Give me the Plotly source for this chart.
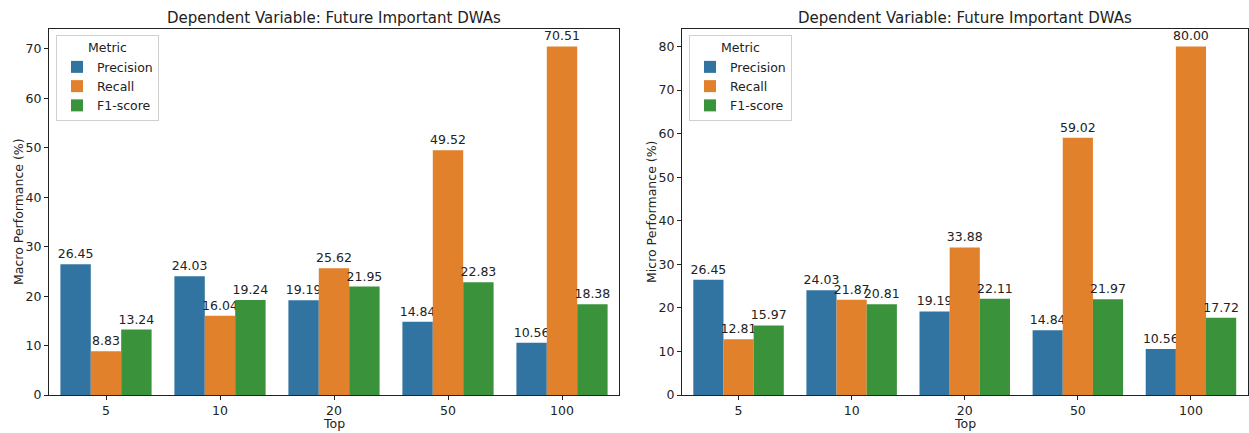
import plotly.graph_objects as go

# Data
tops = ["5", "10", "20", "50", "100"]
metrics = ["Precision", "Recall", "F1-score"]

macro_precision = [26.45, 24.03, 19.19, 14.84, 10.56]
macro_recall = [8.83, 16.04, 25.62, 49.52, 70.51]
macro_f1 = [13.24, 19.24, 21.95, 22.83, 18.38]

micro_precision = [26.45, 24.03, 19.19, 14.84, 10.56]
micro_recall = [12.81, 21.87, 33.88, 59.02, 80.00]
micro_f1 = [15.97, 20.81, 22.11, 21.97, 17.72]

colors = ["#3274a1", "#e1812c", "#3a923a"]
FONT = "DejaVu Sans"
TXT = "#222222"

W, H = 1249, 433
left_dom = [49 / W, 619 / W]
right_dom = [682 / W, 1247.5 / W]
y_dom = [1 - 395 / H, 1 - 29 / H]

fig = go.Figure()

panels = [
    ("x", "y", "legend", [macro_precision, macro_recall, macro_f1]),
    ("x2", "y2", "legend2", [micro_precision, micro_recall, micro_f1]),
]
for xa, ya, lg, series in panels:
    for name, vals, c in zip(metrics, series, colors):
        fig.add_trace(go.Bar(
            x=tops, y=vals, name=name, xaxis=xa, yaxis=ya, legend=lg,
            marker=dict(color=c, line=dict(width=0)),
            texttemplate="%{y:.2f}", textposition="outside",
            textfont=dict(family=FONT, size=12.5, color=TXT),
            constraintext="none", cliponaxis=False,
        ))

axis_common = dict(
    showline=True, linecolor=TXT, linewidth=1.2, mirror=True, automargin=False,
    ticks="outside", ticklen=4, tickcolor=TXT, showgrid=False, zeroline=False,
    tickfont=dict(family=FONT, size=12.5, color=TXT),
)

fig.update_layout(
    width=W, height=H,
    margin=dict(l=0, r=0, t=0, b=0, autoexpand=False),
    paper_bgcolor="white", plot_bgcolor="white",
    barmode="group", bargap=0.2, bargroupgap=0,
    xaxis=dict(domain=left_dom, anchor="y", type="category", range=[-0.5, 4.5], **axis_common),
    yaxis=dict(domain=y_dom, anchor="x", range=[0, 74.04], tickvals=list(range(0, 80, 10)), **axis_common),
    xaxis2=dict(domain=right_dom, anchor="y2", type="category", range=[-0.5, 4.5], **axis_common),
    yaxis2=dict(domain=y_dom, anchor="x2", range=[0, 84.0], tickvals=list(range(0, 90, 10)), **axis_common),
)

legend_style = dict(
    xanchor="left", yanchor="top",
    bgcolor="rgba(255,255,255,0.8)", bordercolor="#d0d0d0", borderwidth=1,
    font=dict(family=FONT, size=12.5, color=TXT),
    title=dict(text="Metric", side="top center", font=dict(family=FONT, size=12.5, color=TXT)),
    tracegroupgap=0, itemwidth=30,
)
fig.update_layout(
    legend=dict(x=56 / W, y=1 - 35 / H, **legend_style),
    legend2=dict(x=689 / W, y=1 - 35 / H, **legend_style),
)

# Panel titles and axis titles
title = "Dependent Variable: Future Important DWAs"
for dom, ylab in [(left_dom, "Macro Performance (%)"), (right_dom, "Micro Performance (%)")]:
    cx = (dom[0] + dom[1]) / 2
    fig.add_annotation(text=title, x=cx, y=1 - 18 / H, xref="paper", yref="paper",
                       showarrow=False, xanchor="center", yanchor="middle",
                       font=dict(family=FONT, size=15, color=TXT))
    fig.add_annotation(text="Top", x=cx, y=1 - 423 / H, xref="paper", yref="paper",
                       showarrow=False, xanchor="center", yanchor="middle",
                       font=dict(family=FONT, size=12.5, color=TXT))
    fig.add_annotation(text=ylab, x=dom[0] - 31 / W, y=(y_dom[0] + y_dom[1]) / 2,
                       xref="paper", yref="paper", textangle=-90,
                       showarrow=False, xanchor="center", yanchor="middle",
                       font=dict(family=FONT, size=12.5, color=TXT))

fig.write_html("out.html")
